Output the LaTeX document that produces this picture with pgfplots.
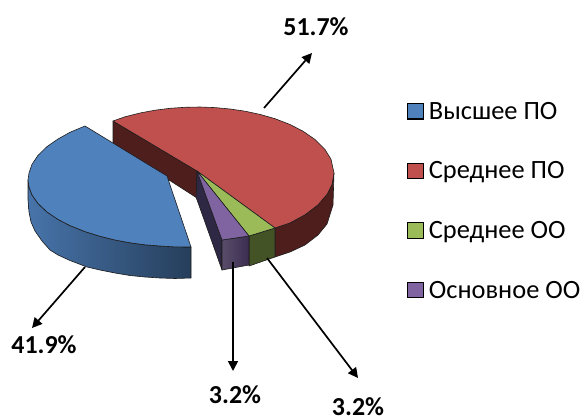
\documentclass[border=0pt]{standalone}
\usepackage{fontspec}
\setmainfont{Carlito}
\usepackage{pgfplots}
\pgfplotsset{compat=1.18}
\usetikzlibrary{arrows.meta}

\definecolor{bluetop}{HTML}{4F81BD}
\definecolor{redtop}{HTML}{C0504D}
\definecolor{greentop}{HTML}{9BBB59}
\definecolor{purpletop}{HTML}{8064A2}
\definecolor{redside}{HTML}{4E1E1C}
\definecolor{greenside}{HTML}{445325}
\definecolor{purpleside}{HTML}{3B2D50}
\definecolor{purpleinner}{HTML}{2F2844}
\definecolor{edge}{HTML}{1C1C1C}

\pgfplotsset{
  slice/.style={forget plot,no marks,draw=edge,line width=0.6pt,line join=round},
  pointer/.style={forget plot,no marks,black,line width=1.7pt,-{Triangle[length=10bp,width=10bp]}},
  square/.style={legend image code/.code={
    \draw[fill=#1,draw=black,line width=1.2pt] (0bp,-7.5bp) rectangle (15.5bp,8bp);}},
}
\tikzset{pct/.style={font=\fontsize{26}{28}\selectfont\bfseries,inner sep=0pt}}

\begin{document}
\begin{tikzpicture}
\path[use as bounding box] (0,0) rectangle (585bp,419bp);
\begin{axis}[
  scale only axis,
  width=585bp,
  height=419bp,
  xmin=0, xmax=585,
  ymin=0, ymax=419,
  y dir=reverse,
  hide axis,
  clip=false,
  legend cell align=left,
  legend style={
    at={(axis cs:407,100)},
    anchor=north west,
    draw=none,
    fill=none,
    inner sep=0pt,
    row sep=37bp,
    column sep=3bp,
    font=\fontsize{26.5}{28}\selectfont,
  },
]
% legend
\addlegendimage{square=bluetop}
\addlegendentry{Высшее ПО}
\addlegendimage{square=redtop}
\addlegendentry{Среднее ПО}
\addlegendimage{square=greentop}
\addlegendentry{Среднее ОО}
\addlegendimage{square=purpletop}
\addlegendentry{Основное ОО}

% red slice: inner wall, outer wall, top
\addplot[slice,fill=redside] coordinates {(113,121) (197,171) (197,198) (113,144)} -- cycle;
\addplot[slice,fill=redside] coordinates {
  (334,173) (332,184.6) (327,194.4) (318,204.9) (305,214.8) (290,222.9) (275,228)
  (275,257) (290,252) (305,245) (318,235) (327,224) (333,205)} -- cycle;
\addplot[slice,fill=redtop] coordinates {
  (197,171) (113,121) (125,116.8) (140,113) (155,110.2) (170,108.3) (185,107.3)
  (200,107) (215,107.6) (230,109) (245,111.2) (260,114.4) (275,118.7) (290,124.5)
  (303,131.2) (315,139.5) (325,149.5) (331,159.3) (334,173) (332,184.6) (327,194.4)
  (318,204.9) (305,214.8) (290,222.9) (275,228)} -- cycle;

% green slice
\addplot[slice,fill=greenside] coordinates {(249,236) (275,228) (275,257) (249,266)} -- cycle;
\addplot[slice,fill=greentop] coordinates {(197,171) (275,228) (249,236)} -- cycle;

% purple slice
\addplot[slice,fill=purpleinner] coordinates {(197,171) (222,240) (222,270) (196,197)} -- cycle;
\addplot[slice,left color=purpleside!85!white,right color=purpleside] coordinates {(222,240) (249,236) (249,265) (222,270)} -- cycle;
\addplot[slice,fill=purpletop] coordinates {(197,171) (249,236) (222,240)} -- cycle;

% blue slice
\addplot[slice,left color=bluetop!90!black,right color=bluetop!48!black] coordinates {
  (191,247) (175,246.9) (160,246) (145,244.8) (130,242.8) (115,240) (100,236.3)
  (85,231.6) (70,225.6) (58,219.4) (47,212) (38,203.5) (32,195) (29,187) (28,180)
  (28,200) (29,212) (31,222) (35,231) (42,241) (50,250) (58,255) (70,260.5) (87,267)
  (100,270) (115,273) (130,275.5) (145,277) (160,278) (175,278.5) (191,278)} -- cycle;
\addplot[slice,fill=bluetop] coordinates {
  (167,176) (85,126) (70,132.3) (58,139) (47,146.6) (38,155.4) (32,164.3) (29,173)
  (28,180) (29,187) (32,195) (38,203.5) (47,212) (58,219.4) (70,225.6) (85,231.6)
  (100,236.3) (115,240) (130,242.8) (145,244.8) (160,246) (175,246.9) (191,247)} -- cycle;

% pointers
\addplot[pointer] coordinates {(264,108) (312,53)};
\addplot[pointer] coordinates {(85,267) (32,328)};
\addplot[pointer] coordinates {(233,262) (233,371)};
\addplot[pointer] coordinates {(267,258) (358,378)};

% percentages
\node[pct] at (axis cs:316,26.5) {51.7\%};
\node[pct] at (axis cs:44,345) {41.9\%};
\node[pct] at (axis cs:235,395) {3.2\%};
\node[pct] at (axis cs:358,407) {3.2\%};
\end{axis}
\end{tikzpicture}
\end{document}
